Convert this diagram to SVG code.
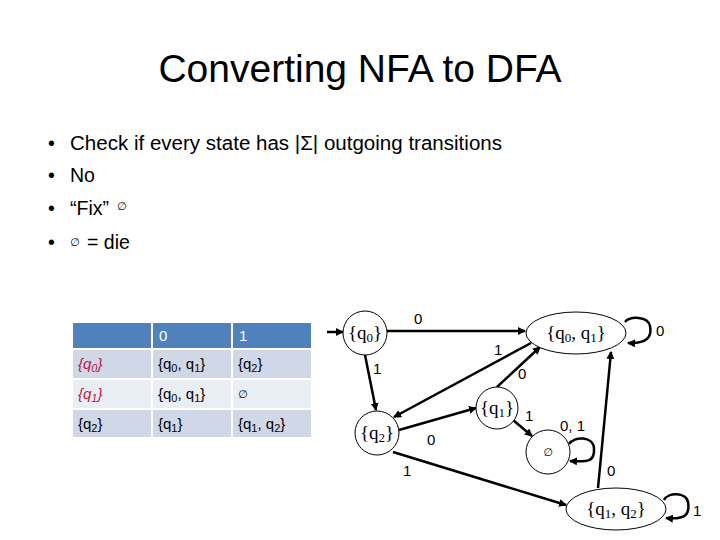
<svg xmlns="http://www.w3.org/2000/svg" width="720" height="540" viewBox="0 0 720 540">
<style>
.title{font-family:"Liberation Sans",Arial,sans-serif;font-size:39px;fill:#000}
.bul{font-family:"Liberation Sans",Arial,sans-serif;font-size:19.5px;fill:#000}
.small{font-family:"DejaVu Sans",sans-serif;font-size:11px;fill:#000}
.cell{font-family:"Liberation Sans",Arial,sans-serif;font-size:15px;fill:#000}
.hdr{font-family:"Liberation Sans",Arial,sans-serif;font-size:15px;fill:#fff}
.red{font-family:"Liberation Sans",Arial,sans-serif;font-size:15px;fill:#C0143C;font-style:italic}
.st{fill:#fff;stroke:#000;stroke-width:1}
.lbl{font-family:"Liberation Serif","Times New Roman",serif;font-size:19px;fill:#000}
.el{font-family:"Liberation Sans",Arial,sans-serif;font-size:15px;fill:#000}
.edge{fill:none;stroke:#000;stroke-width:2.5}
</style>
<defs>
<marker id="ah" markerWidth="8" markerHeight="8" refX="7" refY="4" orient="auto" markerUnits="userSpaceOnUse">
<path d="M0,0 L8,4 L0,8 z" fill="#000"/>
</marker>
</defs>
<rect width="720" height="540" fill="#fff"/>
<text class="title" x="360" y="82" text-anchor="middle">Converting NFA to DFA</text>
<g id="bullets">
<text class="bul" x="48" y="150">•</text>
<text class="bul" x="70" y="150" textLength="432" lengthAdjust="spacingAndGlyphs">Check if every state has |Σ| outgoing transitions</text>
<text class="bul" x="48" y="182">•</text>
<text class="bul" x="70" y="182">No</text>
<text class="bul" x="48" y="215">•</text>
<text class="bul" x="70" y="215">“Fix”</text>
<text class="small" x="117" y="210">∅</text>
<text class="bul" x="48" y="249">•</text>
<text class="small" x="70" y="246">∅</text>
<text class="bul" x="87" y="249">= die</text>
</g>
<g id="table">
<rect x="73" y="323" width="78" height="25" fill="#4F81BD"/>
<rect x="153" y="323" width="78" height="25" fill="#4F81BD"/>
<rect x="233" y="323" width="78" height="25" fill="#4F81BD"/>
<rect x="73" y="350" width="78" height="28" fill="#D0D8E8"/>
<rect x="153" y="350" width="78" height="28" fill="#D0D8E8"/>
<rect x="233" y="350" width="78" height="28" fill="#D0D8E8"/>
<rect x="73" y="380" width="78" height="28" fill="#E9EDF4"/>
<rect x="153" y="380" width="78" height="28" fill="#E9EDF4"/>
<rect x="233" y="380" width="78" height="28" fill="#E9EDF4"/>
<rect x="73" y="410" width="78" height="27" fill="#D0D8E8"/>
<rect x="153" y="410" width="78" height="27" fill="#D0D8E8"/>
<rect x="233" y="410" width="78" height="27" fill="#D0D8E8"/>
<text class="hdr" x="159" y="341">0</text>
<text class="hdr" x="239" y="341">1</text>
<text class="red" x="78" y="369">{q<tspan font-size="11" dy="3">0</tspan><tspan dy="-3">}</tspan></text>
<text class="red" x="78" y="399">{q<tspan font-size="11" dy="3">1</tspan><tspan dy="-3">}</tspan></text>
<text class="cell" x="78" y="429">{q<tspan font-size="11" dy="3">2</tspan><tspan dy="-3">}</tspan></text>
<text class="cell" x="158" y="369">{q<tspan font-size="11" dy="3">0</tspan><tspan dy="-3">, q</tspan><tspan font-size="11" dy="3">1</tspan><tspan dy="-3">}</tspan></text>
<text class="cell" x="158" y="399">{q<tspan font-size="11" dy="3">0</tspan><tspan dy="-3">, q</tspan><tspan font-size="11" dy="3">1</tspan><tspan dy="-3">}</tspan></text>
<text class="cell" x="158" y="429">{q<tspan font-size="11" dy="3">1</tspan><tspan dy="-3">}</tspan></text>
<text class="cell" x="238" y="369">{q<tspan font-size="11" dy="3">2</tspan><tspan dy="-3">}</tspan></text>
<text class="small" x="238" y="398">∅</text>
<text class="cell" x="238" y="429">{q<tspan font-size="11" dy="3">1</tspan><tspan dy="-3">, q</tspan><tspan font-size="11" dy="3">2</tspan><tspan dy="-3">}</tspan></text>
</g>
<g id="connectors">
<line class="edge" x1="327" y1="332" x2="343" y2="332" stroke-width="2" marker-end="url(#ah)"/>
<line class="edge" x1="387" y1="331" x2="525" y2="331" marker-end="url(#ah)"/>
<line class="edge" x1="365" y1="355" x2="376" y2="410" marker-end="url(#ah)"/>
<line class="edge" x1="531" y1="343" x2="394" y2="417" marker-end="url(#ah)"/>
<line class="edge" x1="497" y1="387" x2="540" y2="347" marker-end="url(#ah)"/>
<line class="edge" x1="399" y1="430" x2="476" y2="408" marker-end="url(#ah)"/>
<line class="edge" x1="513" y1="420" x2="532" y2="436" marker-end="url(#ah)"/>
<line class="edge" x1="393" y1="452" x2="566" y2="505" marker-end="url(#ah)"/>
<line class="edge" x1="598" y1="488" x2="611" y2="352" marker-end="url(#ah)"/>
<path class="edge" d="M625,322 C630,316 648,316 650,326 C652,336 648,344 628,343" marker-end="url(#ah)"/>
<path class="edge" d="M569,444 C574,436 593,436 594,448 C595,462 588,462 570,461" marker-end="url(#ah)"/>
<path class="edge" d="M664,500 C668,492 686,492 688,502 C690,514 686,520 666,518" marker-end="url(#ah)"/>
<text class="el" x="414" y="324">0</text>
<text class="el" x="373" y="374">1</text>
<text class="el" x="494" y="355">1</text>
<text class="el" x="518" y="379">0</text>
<text class="el" x="427" y="445">0</text>
<text class="el" x="525" y="421">1</text>
<text class="el" x="560" y="431">0, 1</text>
<text class="el" x="403" y="476">1</text>
<text class="el" x="607" y="476">0</text>
<text class="el" x="656" y="336">0</text>
<text class="el" x="693" y="516">1</text>
</g>
<g id="q0"><circle class="st" cx="365" cy="333" r="22"/><text class="lbl" x="365" y="339" text-anchor="middle">{q<tspan font-size="13" dy="3">0</tspan><tspan dy="-3">}</tspan></text></g>
<g id="q2"><circle class="st" cx="377" cy="433" r="22"/><text class="lbl" x="377" y="439" text-anchor="middle">{q<tspan font-size="13" dy="3">2</tspan><tspan dy="-3">}</tspan></text></g>
<g id="q1"><circle class="st" cx="497" cy="408" r="21"/><text class="lbl" x="497" y="414" text-anchor="middle">{q<tspan font-size="13" dy="3">1</tspan><tspan dy="-3">}</tspan></text></g>
<g id="q0q1"><ellipse class="st" cx="576" cy="333" rx="50" ry="21"/><text class="lbl" x="576" y="339" text-anchor="middle">{q<tspan font-size="13" dy="3">0</tspan><tspan dy="-3">, q</tspan><tspan font-size="13" dy="3">1</tspan><tspan dy="-3">}</tspan></text></g>
<g id="empty"><circle class="st" cx="548" cy="452" r="22"/><text class="small" x="548" y="456" text-anchor="middle">∅</text></g>
<g id="q1q2"><ellipse class="st" cx="616" cy="509" rx="50" ry="21"/><text class="lbl" x="616" y="515" text-anchor="middle">{q<tspan font-size="13" dy="3">1</tspan><tspan dy="-3">, q</tspan><tspan font-size="13" dy="3">2</tspan><tspan dy="-3">}</tspan></text></g>
</svg>
